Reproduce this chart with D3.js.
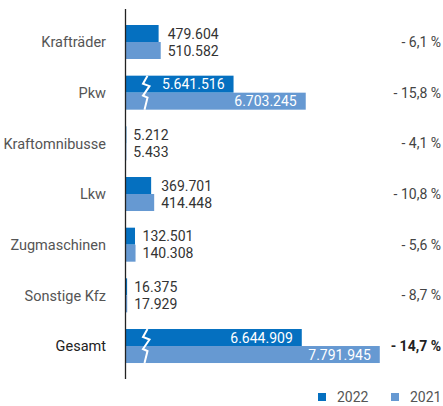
<!DOCTYPE html>
<html>
<head>
<meta charset="utf-8">
<script src="https://cdn.jsdelivr.net/npm/d3@7"></script>
<style>
  body { margin: 0; background: #fff; }
  text { font-family: Roboto, "Liberation Sans", sans-serif; }
</style>
</head>
<body>
<script>
// data
var categories = ["Krafträder", "Pkw", "Kraftomnibusse", "Lkw", "Zugmaschinen", "Sonstige Kfz", "Gesamt"]
var values2022 = [479604, 5641516, 5212, 369701, 132501, 16375, 6644909]
var values2021 = [510582, 6703245, 5433, 414448, 140308, 17929, 7791945]
var changes = ["- 6,1 %", "- 15,8 %", "- 4,1 %", "- 10,8 %", "- 5,6 %", "- 8,7 %", "- 14,7 %"]
var broken = [false, true, false, false, false, false, true]
var years = ["2022", "2021"]

var width = 443, height = 406
var col2022 = "#0570c0", col2021 = "#6699d2"
var breakOffset = 4060000   // amount cut out of the broken bars

var fmt = d3.formatLocale({decimal: ",", thousands: ".", grouping: [3], currency: ["", ""]}).format(",d")

var svg = d3.select("body").append("svg")
  .attr("width", width)
  .attr("height", height)

var x = d3.scaleLinear().domain([0, 3750000]).range([126, 381])
var y = d3.scaleBand().domain(categories).range([25, 25 + 50.67 * 7]).padding(0)

var barH = 17

var rows = categories.map(function(c, i) {
  return {cat: c, v22: values2022[i], v21: values2021[i], ch: changes[i], broken: broken[i], total: c == "Gesamt"}
})

var w = function(d, v) { return x(d.broken ? v - breakOffset : v) - x(0) }

var g = svg.selectAll("g.row").data(rows).enter()
  .append("g").attr("class", "row")
  .attr("transform", function(d) { return "translate(0," + y(d.cat) + ")" })

g.append("rect")
  .attr("x", x(0)).attr("y", 0)
  .attr("width", function(d) { return w(d, d.v22) })
  .attr("height", barH)
  .attr("fill", col2022)

g.append("rect")
  .attr("x", x(0)).attr("y", barH)
  .attr("width", function(d) { return w(d, d.v21) })
  .attr("height", barH)
  .attr("fill", col2021)

// zigzag break marks
g.filter(function(d) { return d.broken })
  .append("path")
  .attr("d", function() {
    var bx = 146
    var pts = [[1.5, 0], [-3, 8], [3.5, 10.5], [-3, 20], [1.5, 22], [-1.5, 34]]
    return d3.line()(pts.map(function(p) { return [bx + p[0], p[1]] }))
  })
  .attr("fill", "none")
  .attr("stroke", "#fff")
  .attr("stroke-width", 2)

// value labels
g.each(function(d) {
  var row = d3.select(this)
  var lab = [[d.v22, barH / 2], [d.v21, barH * 1.5]]
  lab.forEach(function(l) {
    var t = row.append("text")
      .attr("y", l[1])
      .attr("dy", "0.36em")
      .attr("font-size", 14)
      .text(fmt(l[0]))
    if (d.broken) {
      t.attr("x", x(0) + w(d, l[0]) - 9).attr("text-anchor", "end").attr("fill", "#fff")
    } else {
      t.attr("x", x(0) + Math.max(w(d, d.v22), w(d, d.v21)) + 7).attr("fill", "#333")
    }
  })
})

// category labels
g.append("text")
  .attr("x", 106)
  .attr("y", barH)
  .attr("dy", "0.36em")
  .attr("text-anchor", "end")
  .attr("font-size", 14.5)
  .attr("fill", function(d) { return d.total ? "#222" : "#555" })
  .text(function(d) { return d.cat })

// percent change
g.append("text")
  .attr("x", 441)
  .attr("y", barH)
  .attr("dy", "0.36em")
  .attr("text-anchor", "end")
  .attr("font-size", 14)
  .attr("font-weight", function(d) { return d.total ? "bold" : "normal" })
  .attr("fill", function(d) { return d.total ? "#222" : "#444" })
  .text(function(d) { return d.ch })

// axis line
svg.append("line")
  .attr("x1", 125.5).attr("x2", 125.5)
  .attr("y1", 9).attr("y2", 379)
  .attr("stroke", "#222").attr("stroke-width", 1.3)

// legend
var leg = svg.selectAll("g.leg").data(years).enter()
  .append("g").attr("class", "leg")
  .attr("transform", function(d, i) { return "translate(" + (318 + i * 73) + ",393)" })

leg.append("rect")
  .attr("width", 8).attr("height", 8)
  .attr("fill", function(d, i) { return i == 0 ? col2022 : col2021 })

leg.append("text")
  .attr("x", 19).attr("y", 4)
  .attr("dy", "0.36em")
  .attr("font-size", 14)
  .attr("fill", "#555")
  .text(function(d) { return d })
</script>
</body>
</html>
